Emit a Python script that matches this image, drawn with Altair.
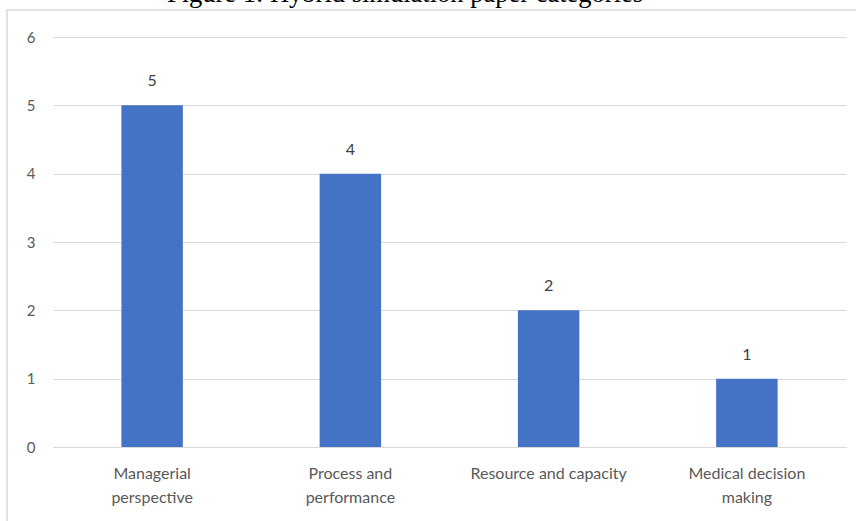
import altair as alt
import pandas as pd

categories = ["Managerial perspective", "Process and performance", "Resource and capacity", "Medical decision making"]
values = [5, 4, 2, 1]
label_lines = [["Managerial", "perspective"], ["Process and", "performance"], ["Resource and capacity"], ["Medical decision", "making"]]
title_text = "Figure 1: Hybrid simulation paper categories"

df = pd.DataFrame({"cat": categories, "val": values})

label_expr = " : ".join(
    f"datum.value == '{c}' ? {l!r}" for c, l in zip(categories, label_lines)
) + " : datum.value"

FONT = "Lato"
GRAY = "#595959"

base = alt.Chart(df)

bars = base.mark_bar(color="#4472C4").encode(
    x=alt.X("cat:N", sort=categories, title=None,
            scale=alt.Scale(paddingInner=0.69, paddingOuter=0.345),
            axis=alt.Axis(labelExpr=label_expr, labelAngle=0, labelFont=FONT,
                          labelFontSize=16, labelColor=GRAY, labelPadding=18,
                          labelLineHeight=24, ticks=False, domainColor="#d9d9d9",
                          domainWidth=1.2, labelLimit=300)),
    y=alt.Y("val:Q", title=None,
            scale=alt.Scale(domain=[0, 6]),
            axis=alt.Axis(values=[0, 1, 2, 3, 4, 5, 6], labelFont=FONT, labelFontSize=15,
                          labelColor=GRAY, labelPadding=18, ticks=False, domain=False,
                          gridColor="#d9d9d9", gridWidth=1.2, format="d")),
)

text = base.mark_text(baseline="bottom", dy=-16, font=FONT, fontSize=16, color="#404040").encode(
    x=alt.X("cat:N", sort=categories),
    y="val:Q",
    text="val:Q",
)

frame = alt.Chart(pd.DataFrame({"a": [0]})).mark_rect(
    fill=None, stroke="#d9d9d9", strokeWidth=1.5
).encode(x=alt.value(-46), x2=alt.value(820), y=alt.value(-27), y2=alt.value(600))

title = alt.Chart(pd.DataFrame({"t": [title_text]})).mark_text(
    font="Liberation Serif", fontSize=26.5, color="#000000",
    baseline="alphabetic", align="center"
).encode(x=alt.value(352), y=alt.value(-35), text="t:N")

chart = alt.layer(frame, bars, text, title).properties(
    width=793, height=410,
    padding={"left": 53, "top": 37, "right": 10, "bottom": 74},
    autosize=alt.AutoSizeParams(type="none"),
    background="white",
).configure_view(stroke=None)

chart.save("out.html", embed_options={"renderer": "svg", "actions": False})
